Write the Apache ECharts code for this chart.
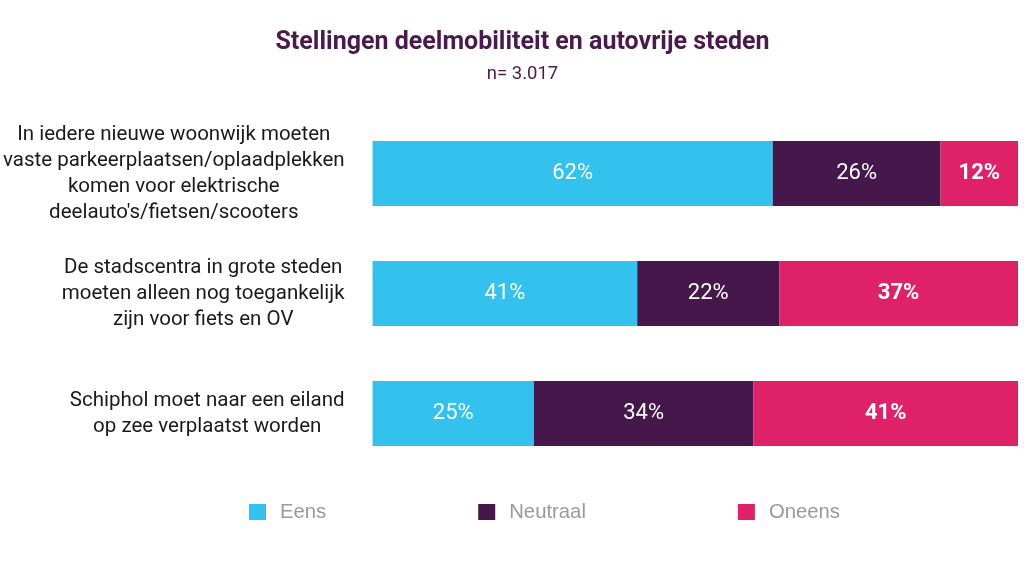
<!DOCTYPE html>
<html>
<head>
<meta charset="utf-8">
<style>html,body{margin:0;padding:0;background:#fff;}#c{width:1024px;height:561px;}</style>
<script src="https://cdn.jsdelivr.net/npm/echarts@6/dist/echarts.min.js"></script>
</head>
<body>
<div id="c"></div>
<script>
var categories = [
  "In iedere nieuwe woonwijk moeten\nvaste parkeerplaatsen/oplaadplekken\nkomen voor elektrische\ndeelauto's/fietsen/scooters",
  "De stadscentra in grote steden\nmoeten alleen nog toegankelijk\nzijn voor fiets en OV",
  "Schiphol moet naar een eiland\nop zee verplaatst worden"
];
var seriesNames = ["Eens", "Neutraal", "Oneens"];
var eens = [62, 41, 25];
var neutraal = [26, 22, 34];
var oneens = [12, 37, 41];
var colors = ["#33C1EE", "#45174A", "#DF2268"];

var chart = echarts.init(document.getElementById('c'), null, {renderer: 'canvas'});
var font = 'Roboto';
function mk(name, data, color, bold) {
  return {
    name: name, type: 'bar', stack: 'total', data: data, barWidth: 65,
    itemStyle: {color: color},
    label: {show: true, position: 'inside', formatter: '{c}%', color: '#fff',
      fontFamily: font, fontSize: 22, fontWeight: bold ? 'bold' : 'normal'},
    emphasis: {disabled: true}
  };
}
chart.setOption({
  animation: false,
  title: [
    {text: 'Stellingen deelmobiliteit en autovrije steden', left: 517.5, top: 25, textAlign: 'center',
     textStyle: {fontFamily: font, fontSize: 25, fontWeight: 'bold', color: '#4A1A4D'}},
    {text: 'n= 3.017', left: 517.5, top: 60, textAlign: 'center',
     textStyle: {fontFamily: font, fontSize: 18.5, fontWeight: 'normal', color: '#4A1A4D'}}
  ],
  legend: {
    data: seriesNames, bottom: 34, left: 244, itemWidth: 17, itemHeight: 16, itemGap: 152,
    icon: 'rect',
    textStyle: {fontFamily: 'Liberation Sans', fontSize: 20.3, color: '#9A9A9A', padding: [0, 0, 0, 9]}
  },
  grid: {left: 372.5, right: 6, top: 113.5, bottom: 87.5, containLabel: false},
  xAxis: {type: 'value', min: 0, max: 100, show: false},
  yAxis: {
    type: 'category', data: categories, inverse: true,
    axisLine: {show: false}, axisTick: {show: false},
    axisLabel: {
      margin: 28, fontFamily: font, fontSize: 20.5, color: '#1A1A1A', lineHeight: 26,
      formatter: function (v) { return v.split('\n').map(function (l) { return '{c|' + l + '}'; }).join('\n'); },
      rich: {c: {align: 'center', fontFamily: font, fontSize: 20.5, color: '#1A1A1A', lineHeight: 26}}
    }
  },
  series: [
    mk(seriesNames[0], eens, colors[0], false),
    mk(seriesNames[1], neutraal, colors[1], false),
    mk(seriesNames[2], oneens, colors[2], true)
  ]
});
</script>
</body>
</html>
